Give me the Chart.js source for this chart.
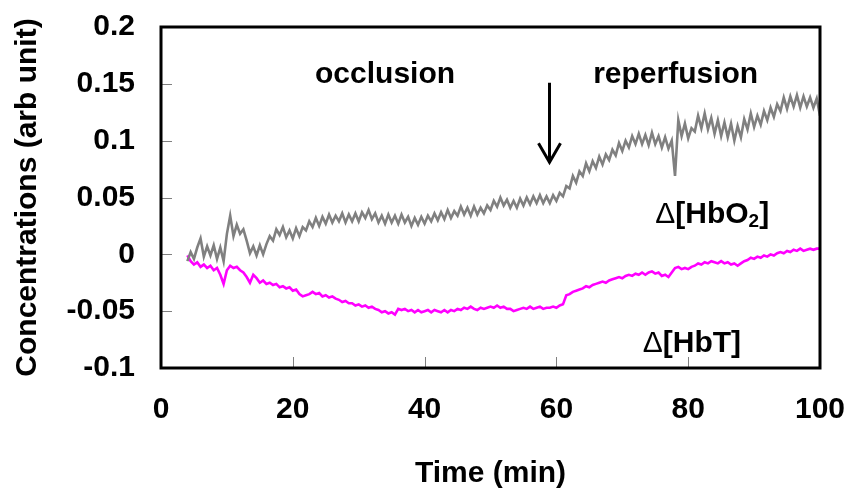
<!DOCTYPE html>
<html>
<head>
<meta charset="utf-8">
<script src="https://cdn.jsdelivr.net/npm/chart.js@4.4.0/dist/chart.umd.min.js"></script>
<style>
  body { margin: 0; background: #fff; }
  #chart-canvas { display: block; }
</style>
</head>
<body>
<canvas id="chart-canvas" width="852" height="497"></canvas>
<script>
// Time points (min)
const timeMin = [
  4, 4.5, 5, 5.5, 6, 6.5, 7, 7.5, 8, 8.5,
  9, 9.5, 10, 10.5, 11, 11.5, 12, 12.5, 13, 13.5,
  14, 14.5, 15, 15.5, 16, 16.5, 17, 17.5, 18, 18.5,
  19, 19.5, 20, 20.5, 21, 21.5, 22, 22.5, 23, 23.5,
  24, 24.5, 25, 25.5, 26, 26.5, 27, 27.5, 28, 28.5,
  29, 29.5, 30, 30.5, 31, 31.5, 32, 32.5, 33, 33.5,
  34, 34.5, 35, 35.5, 36, 36.5, 37, 37.5, 38, 38.5,
  39, 39.5, 40, 40.5, 41, 41.5, 42, 42.5, 43, 43.5,
  44, 44.5, 45, 45.5, 46, 46.5, 47, 47.5, 48, 48.5,
  49, 49.5, 50, 50.5, 51, 51.5, 52, 52.5, 53, 53.5,
  54, 54.5, 55, 55.5, 56, 56.5, 57, 57.5, 58, 58.5,
  59, 59.5, 60, 60.5, 61, 61.5, 62, 62.5, 63, 63.5,
  64, 64.5, 65, 65.5, 66, 66.5, 67, 67.5, 68, 68.5,
  69, 69.5, 70, 70.5, 71, 71.5, 72, 72.5, 73, 73.5,
  74, 74.5, 75, 75.5, 76, 76.5, 77, 77.5, 78, 78.5,
  79, 79.5, 80, 80.5, 81, 81.5, 82, 82.5, 83, 83.5,
  84, 84.5, 85, 85.5, 86, 86.5, 87, 87.5, 88, 88.5,
  89, 89.5, 90, 90.5, 91, 91.5, 92, 92.5, 93, 93.5,
  94, 94.5, 95, 95.5, 96, 96.5, 97, 97.5, 98, 98.5,
  99, 99.5, 100
];

// Delta [HbO2] (grey trace)
const hbO2 = [
  -0.006, 0.002, -0.004, 0.006, 0.014, -0.002, 0.007, -0.001, 0.008, -0.004,
  0.006, -0.006, 0.018, 0.034, 0.016, 0.026, 0.018, 0.022, 0.012, 0.001,
  0.007, -0.001, 0.008, 0.000, 0.009, 0.016, 0.012, 0.022, 0.017, 0.024,
  0.015, 0.021, 0.014, 0.023, 0.016, 0.024, 0.021, 0.029, 0.024, 0.032,
  0.025, 0.033, 0.027, 0.035, 0.028, 0.034, 0.029, 0.036, 0.028, 0.035,
  0.029, 0.036, 0.029, 0.037, 0.032, 0.039, 0.031, 0.036, 0.028, 0.034,
  0.027, 0.035, 0.028, 0.034, 0.027, 0.035, 0.028, 0.033, 0.025, 0.032,
  0.026, 0.033, 0.027, 0.034, 0.029, 0.036, 0.030, 0.037, 0.031, 0.039,
  0.032, 0.038, 0.034, 0.042, 0.035, 0.041, 0.034, 0.042, 0.035, 0.041,
  0.036, 0.043, 0.039, 0.047, 0.042, 0.050, 0.043, 0.048, 0.041, 0.047,
  0.041, 0.049, 0.043, 0.050, 0.044, 0.051, 0.045, 0.052, 0.045, 0.051,
  0.045, 0.052, 0.047, 0.054, 0.051, 0.060, 0.058, 0.069, 0.063, 0.073,
  0.069, 0.080, 0.073, 0.082, 0.076, 0.086, 0.079, 0.088, 0.083, 0.092,
  0.087, 0.098, 0.091, 0.100, 0.094, 0.104, 0.097, 0.106, 0.097, 0.105,
  0.096, 0.107, 0.097, 0.104, 0.094, 0.103, 0.093, 0.100, 0.069, 0.118,
  0.104, 0.115, 0.102, 0.111, 0.108, 0.122, 0.111, 0.124, 0.110, 0.120,
  0.106, 0.118, 0.104, 0.116, 0.103, 0.115, 0.100, 0.113, 0.103, 0.119,
  0.110, 0.124, 0.112, 0.122, 0.114, 0.126, 0.118, 0.129, 0.121, 0.132,
  0.126, 0.138, 0.128, 0.139, 0.130, 0.140, 0.129, 0.139, 0.130, 0.138,
  0.129, 0.137, 0.122
];

// Delta [HbT] (magenta trace)
const hbT = [
  -0.001, -0.006, -0.009, -0.007, -0.011, -0.009, -0.012, -0.010, -0.014, -0.012,
  -0.018, -0.026, -0.014, -0.010, -0.012, -0.011, -0.014, -0.016, -0.020, -0.025,
  -0.018, -0.021, -0.025, -0.023, -0.026, -0.025, -0.027, -0.026, -0.029, -0.028,
  -0.030, -0.029, -0.032, -0.031, -0.035, -0.037, -0.036, -0.035, -0.033, -0.035,
  -0.034, -0.037, -0.036, -0.038, -0.037, -0.039, -0.040, -0.042, -0.041, -0.043,
  -0.043, -0.045, -0.044, -0.046, -0.045, -0.047, -0.046, -0.048, -0.049, -0.051,
  -0.050, -0.052, -0.051, -0.053, -0.048, -0.049, -0.048, -0.050, -0.049, -0.051,
  -0.049, -0.051, -0.050, -0.049, -0.051, -0.049, -0.050, -0.051, -0.049, -0.051,
  -0.049, -0.050, -0.048, -0.049, -0.047, -0.048, -0.046, -0.048, -0.049, -0.047,
  -0.048, -0.047, -0.046, -0.047, -0.045, -0.047, -0.046, -0.048, -0.048, -0.050,
  -0.049, -0.048, -0.047, -0.048, -0.046, -0.048, -0.047, -0.046, -0.048, -0.047,
  -0.047, -0.046, -0.047, -0.045, -0.044, -0.036, -0.035, -0.033, -0.032, -0.031,
  -0.030, -0.028, -0.029, -0.027, -0.026, -0.025, -0.024, -0.025, -0.023, -0.022,
  -0.021, -0.020, -0.021, -0.019, -0.018, -0.019, -0.017, -0.018, -0.016, -0.018,
  -0.016, -0.015, -0.017, -0.016, -0.019, -0.018, -0.020, -0.016, -0.012, -0.011,
  -0.013, -0.012, -0.013, -0.011, -0.010, -0.008, -0.009, -0.007, -0.008, -0.006,
  -0.007, -0.008, -0.006, -0.008, -0.007, -0.009, -0.008, -0.010, -0.008, -0.006,
  -0.005, -0.003, -0.004, -0.002, -0.003, -0.001, -0.002, 0.000, -0.001, 0.001,
  0.002, 0.001, 0.003, 0.002, 0.004, 0.003, 0.005, 0.003, 0.004, 0.005,
  0.004, 0.005, 0.005
];

const FONT = '"Liberation Sans", Arial, sans-serif';

// Frame, inner tick marks and the text labels inside the plot
const plotDecor = {
  id: 'plotDecor',
  afterDatasetsDraw(chart) {
    const ctx = chart.ctx;
    const xs = chart.scales.x;
    const ys = chart.scales.y;
    const a = chart.chartArea;
    ctx.save();

    // inner tick marks
    ctx.strokeStyle = '#808080';
    ctx.lineWidth = 1;
    ys.ticks.forEach(t => {
      const py = Math.round(ys.getPixelForValue(t.value)) + 0.5;
      ctx.beginPath();
      ctx.moveTo(a.left, py);
      ctx.lineTo(a.left + 11, py);
      ctx.stroke();
    });
    xs.ticks.forEach(t => {
      const px = Math.round(xs.getPixelForValue(t.value)) + 0.5;
      ctx.beginPath();
      ctx.moveTo(px, a.bottom);
      ctx.lineTo(px, a.bottom - 11);
      ctx.stroke();
    });

    // frame
    ctx.strokeStyle = '#000';
    ctx.lineWidth = 3;
    ctx.strokeRect(a.left, a.top, a.right - a.left, a.bottom - a.top);

    // phase labels
    ctx.fillStyle = '#000';
    ctx.font = 'bold 30px ' + FONT;
    ctx.textAlign = 'center';
    ctx.textBaseline = 'alphabetic';
    ctx.fillText('occlusion', xs.getPixelForValue(34), ys.getPixelForValue(0.151));
    ctx.fillText('reperfusion', xs.getPixelForValue(78.1), ys.getPixelForValue(0.151));

    // arrow
    const ax = Math.round(xs.getPixelForValue(58.9)) + 0.5;
    const tip = ys.getPixelForValue(0.081);
    ctx.lineWidth = 3;
    ctx.beginPath();
    ctx.moveTo(ax, ys.getPixelForValue(0.151));
    ctx.lineTo(ax, tip);
    ctx.moveTo(ax - 11, tip - 19);
    ctx.lineTo(ax, tip);
    ctx.lineTo(ax + 11, tip - 19);
    ctx.stroke();

    // series labels
    const label = (px, py, body, sub) => {
      ctx.textAlign = 'left';
      ctx.font = '30px ' + FONT;
      ctx.fillText('\u0394', px, py);
      px += ctx.measureText('\u0394').width;
      ctx.font = 'bold 30px ' + FONT;
      ctx.fillText(body, px, py);
      px += ctx.measureText(body).width;
      if (sub) {
        ctx.font = 'bold 19px ' + FONT;
        ctx.fillText(sub, px, py + 4);
        px += ctx.measureText(sub).width;
        ctx.font = 'bold 30px ' + FONT;
      }
      ctx.fillText(']', px, py);
    };
    label(xs.getPixelForValue(75.0), ys.getPixelForValue(0.028), '[HbO', '2');
    label(xs.getPixelForValue(73.1), ys.getPixelForValue(-0.086), '[HbT', '');

    ctx.restore();
  }
};

// keep tick labels from pushing the plot area inwards
function noOverflow(scale) {
  scale.paddingTop = 0;
  scale.paddingBottom = 0;
  scale.paddingLeft = 0;
  scale.paddingRight = 0;
}

const canvas = document.getElementById('chart-canvas');
const ctx = canvas.getContext('2d');

new Chart(ctx, {
  type: 'line',
  data: {
    datasets: [
      {
        label: 'HbO2',
        data: timeMin.map((t, i) => ({ x: t, y: hbO2[i] })),
        borderColor: '#808080',
        borderWidth: 2.6,
        pointRadius: 0,
        tension: 0
      },
      {
        label: 'HbT',
        data: timeMin.map((t, i) => ({ x: t, y: hbT[i] })),
        borderColor: '#ff00ff',
        borderWidth: 2.6,
        pointRadius: 0,
        tension: 0
      }
    ]
  },
  options: {
    responsive: false,
    animation: false,
    layout: { padding: { left: 0, right: 32, top: 27, bottom: 0 } },
    plugins: {
      legend: { display: false },
      tooltip: { enabled: false }
    },
    scales: {
      x: {
        type: 'linear',
        min: 0,
        max: 100,
        ticks: {
          stepSize: 20,
          padding: 24,
          color: '#000',
          font: { family: FONT, size: 30, weight: 'bold' },
          maxRotation: 0
        },
        grid: { display: false, drawTicks: false },
        border: { display: false },
        title: {
          display: true,
          text: 'Time (min)',
          color: '#000',
          font: { family: FONT, size: 30, weight: 'bold' },
          padding: { top: 0, bottom: 5 }
        },
        afterFit: function(scale) {
          scale.height = 129;
          noOverflow(scale);
        }
      },
      y: {
        min: -0.1,
        max: 0.2,
        ticks: {
          stepSize: 0.05,
          padding: 26,
          color: '#000',
          font: { family: FONT, size: 30, weight: 'bold' },
          callback: function(value) {
            return String(Number(value.toFixed(2)));
          }
        },
        grid: { display: false, drawTicks: false },
        border: { display: false },
        title: {
          display: true,
          text: 'Concentrations (arb unit)',
          color: '#000',
          font: { family: FONT, size: 30, weight: 'bold' },
          padding: { top: 10, bottom: 0 }
        },
        afterFit: function(scale) {
          scale.width = 161;
          noOverflow(scale);
        }
      }
    }
  },
  plugins: [plotDecor]
});
</script>
</body>
</html>
